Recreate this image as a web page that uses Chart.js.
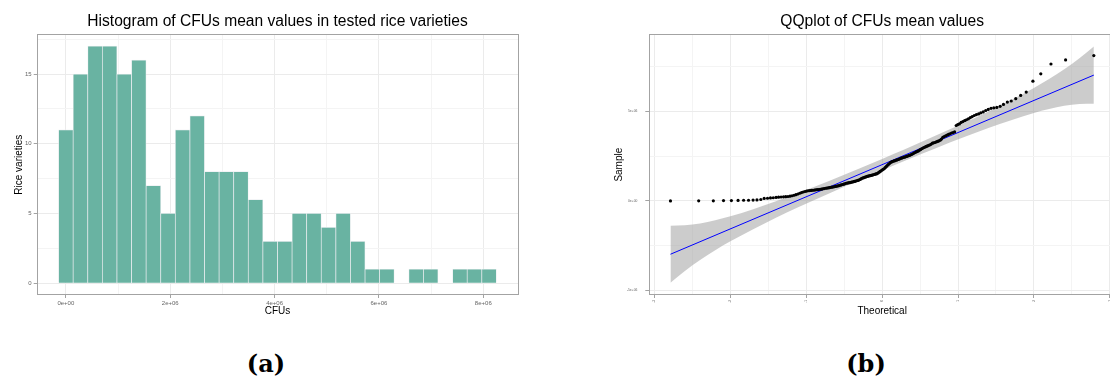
<!DOCTYPE html>
<html>
<head>
<meta charset="utf-8">
<script src="https://cdn.jsdelivr.net/npm/chart.js@4.4.1/dist/chart.umd.min.js"></script>
<style>
  html, body { margin: 0; padding: 0; width: 1110px; height: 380px; overflow: hidden; background: #fff; }
  canvas { position: absolute; top: 0; }
  #histCanvas { left: 0; }
  #qqCanvas { left: 560px; }
  .caption { position: absolute; top: 352px; width: 100px; text-align: center; font: bold 24px "DejaVu Serif", serif; line-height: 1; color: #000; }
</style>
</head>
<body>
<canvas id="histCanvas" width="555" height="320"></canvas>
<canvas id="qqCanvas" width="559" height="320"></canvas>
<div class="caption" style="left:216px">(a)</div>
<div class="caption" style="left:816px">(b)</div>
<script>
// histogram: bin centres (millions of CFUs) and number of varieties per bin
const binCenters = [0, 0.2797, 0.5594, 0.8391, 1.1188, 1.3985, 1.6782, 1.9579, 2.2376, 2.5173,
  2.797, 3.0767, 3.3564, 3.6361, 3.9158, 4.1955, 4.4752, 4.7549, 5.0346, 5.3143,
  5.594, 5.8737, 6.1534, 6.4331, 6.7128, 6.9925, 7.2722, 7.5519, 7.8316, 8.1113];
const binCounts = [11, 15, 17, 17, 15, 16, 7, 5, 11, 12, 8, 8, 8, 6, 3, 3, 5, 5, 4, 5, 3, 1, 1, 0, 1, 1, 0, 1, 1, 1];

// qq plot: theoretical normal quantiles and sorted sample means (millions)
const theoretical = [
  -2.79, -2.418, -2.225, -2.091, -1.987, -1.899, -1.826, -1.761, -1.701, -1.650,
  -1.599, -1.555, -1.511, -1.472, -1.435, -1.398, -1.365, -1.332, -1.300, -1.271,
  -1.242, -1.214, -1.187, -1.161, -1.136, -1.111, -1.087, -1.064, -1.041, -1.018,
  -0.996, -0.976, -0.955, -0.934, -0.914, -0.894, -0.875, -0.856, -0.837, -0.818,
  -0.800, -0.782, -0.765, -0.747, -0.730, -0.713, -0.695, -0.679, -0.663, -0.647,
  -0.631, -0.614, -0.598, -0.583, -0.568, -0.552, -0.537, -0.522, -0.507, -0.492,
  -0.477, -0.463, -0.448, -0.434, -0.419, -0.405, -0.391, -0.377, -0.363, -0.349,
  -0.335, -0.321, -0.307, -0.293, -0.279, -0.266, -0.252, -0.239, -0.225, -0.212,
  -0.198, -0.185, -0.172, -0.158, -0.145, -0.132, -0.119, -0.105, -0.092, -0.079,
  -0.066, -0.053, -0.039, -0.026, -0.013,
  0,
  0.013, 0.026, 0.039, 0.053, 0.066,
  0.079, 0.092, 0.105, 0.119, 0.132, 0.145, 0.158, 0.172, 0.185, 0.198,
  0.212, 0.225, 0.239, 0.252, 0.266, 0.279, 0.293, 0.307, 0.321, 0.335,
  0.349, 0.363, 0.377, 0.391, 0.405, 0.419, 0.434, 0.448, 0.463, 0.477,
  0.492, 0.507, 0.522, 0.537, 0.552, 0.568, 0.583, 0.598, 0.614, 0.631,
  0.647, 0.663, 0.679, 0.695, 0.713, 0.730, 0.747, 0.765, 0.782, 0.800,
  0.818, 0.837, 0.856, 0.875, 0.894, 0.914, 0.934, 0.955, 0.976, 0.996,
  1.018, 1.041, 1.064, 1.087, 1.111, 1.136, 1.161, 1.187, 1.214, 1.242,
  1.271, 1.300, 1.332, 1.365, 1.398, 1.435, 1.472, 1.511, 1.555, 1.599,
  1.650, 1.701, 1.761, 1.826, 1.899, 1.987, 2.091, 2.225, 2.418, 2.79
];
const sampleMeans = [
  0.00, 0.01, 0.01, 0.02, 0.02, 0.03, 0.04, 0.04, 0.05, 0.06, 0.08,
  0.14, 0.15, 0.17, 0.18, 0.20, 0.21, 0.22, 0.23, 0.24, 0.25, 0.27, 0.29, 0.32, 0.35, 0.39,
  0.43, 0.47, 0.50, 0.53, 0.55, 0.57, 0.58, 0.59, 0.60, 0.61, 0.62, 0.63, 0.64, 0.65, 0.66, 0.68, 0.69,
  0.71, 0.72, 0.73, 0.74, 0.76, 0.77, 0.78, 0.80, 0.81, 0.83, 0.84, 0.86, 0.88, 0.90, 0.92, 0.94, 0.96,
  0.99, 1.00, 1.01, 1.02, 1.03, 1.05, 1.06, 1.08, 1.09, 1.11, 1.13, 1.15, 1.17, 1.20, 1.23,
  1.27, 1.29, 1.31, 1.33, 1.35, 1.37, 1.39, 1.40, 1.42, 1.43, 1.45, 1.46, 1.48, 1.50, 1.51, 1.53,
  1.57, 1.61, 1.65, 1.69, 1.73, 1.77, 1.80,
  1.86, 1.92, 1.98, 2.03, 2.08,
  2.13, 2.17, 2.20, 2.22, 2.24, 2.26, 2.28, 2.30, 2.32, 2.34, 2.37,
  2.39, 2.41, 2.43, 2.45, 2.47, 2.49, 2.51, 2.53, 2.55, 2.58, 2.61, 2.64,
  2.68, 2.71, 2.74, 2.77, 2.80, 2.84, 2.88, 2.92,
  2.96, 2.99, 3.02, 3.05, 3.08, 3.11, 3.14, 3.18,
  3.23, 3.25, 3.27, 3.30, 3.33, 3.36, 3.40, 3.46,
  3.56, 3.60, 3.64, 3.68, 3.72, 3.76,
  3.80, 3.83, 3.86,
  4.22, 4.27, 4.31,
  4.39, 4.44, 4.49, 4.54, 4.59,
  4.66, 4.72, 4.78, 4.83, 4.87,
  4.93, 4.98, 5.06, 5.12,
  5.18, 5.21, 5.23, 5.29, 5.40,
  5.53, 5.59, 5.72,
  5.90, 6.09, 6.70, 7.11, 7.66, 7.89, 8.13
];

// reference line and its confidence band
const lineX = [-2.79, 2.79];
const lineY = [-2.98, 7.04];
const bandX = [-2.79, -2.6, -2.4, -2.2, -2.0, -1.7, -1.4, -1.1, -0.7, -0.3, 0, 0.3, 0.7, 1.1, 1.4, 1.7, 2.0, 2.2, 2.4, 2.6, 2.79];
const bandHigh = [-1.38, -1.36, -1.26, -1.08, -0.86, -0.46, -0.02, 0.46, 1.12, 1.81, 2.35, 2.89, 3.64, 4.40, 5.00, 5.64, 6.32, 6.82, 7.36, 7.98, 8.64];
const bandLow = [-4.58, -3.92, -3.30, -2.76, -2.26, -1.58, -0.94, -0.34, 0.42, 1.17, 1.71, 2.25, 2.94, 3.60, 4.08, 4.52, 4.92, 5.14, 5.32, 5.42, 5.44];

// axis ticks (major ones get labels, minor ones only a faint grid line)
const histXMajor = [0, 2, 4, 6, 8];
const histXMinor = [1, 3, 5, 7];
const histYMajor = [0, 5, 10, 15];
const histYMinor = [2.5, 7.5, 12.5, 17.5];
const qqXMajor = [-3, -2, -1, 0, 1, 2, 3];
const qqXMinor = [-2.5, -1.5, -0.5, 0.5, 1.5, 2.5];
const qqYMajor = [-5, 0, 5];
const qqYMinor = [-2.5, 2.5, 7.5];

Chart.defaults.font.family = '"Liberation Sans", Arial, sans-serif';

function sci(v) {
  if (v === 0) return '0e+00';
  return (v < 0 ? '-' : '') + Math.abs(v) + 'e+06';
}

function toXY(xs, ys) {
  return xs.map((x, i) => ({x: x, y: ys[i]}));
}

// light ggplot-like grid, ticks only at the major breaks
function gridFor(minor) {
  const isMinor = ctx => ctx.tick && minor.includes(ctx.tick.value);
  return {
    color: ctx => isMinor(ctx) ? '#f4f4f4' : '#ebebeb',
    tickColor: ctx => isMinor(ctx) ? 'rgba(0,0,0,0)' : '#a3a3a3',
    tickLength: 3,
    offset: false
  };
}

function axis(min, max, major, minor, fmt, tickFont, fitSize, vertical) {
  return {
    type: 'linear',
    min: min,
    max: max,
    offset: false,
    grid: gridFor(minor),
    border: {display: false},
    afterBuildTicks: scale => {
      scale.ticks = major.concat(minor).sort((a, b) => a - b).map(v => ({value: v}));
    },
    afterFit: scale => {
      if (vertical) scale.width = fitSize; else scale.height = fitSize;
    },
    ticks: {
      autoSkip: false,
      font: {size: tickFont},
      color: '#666',
      padding: 2,
      callback: v => minor.includes(v) ? '' : fmt(v)
    }
  };
}

// frame round the plotting panel
const panelFrame = {
  id: 'panelFrame',
  afterDraw(chart) {
    const a = chart.chartArea;
    const ctx = chart.ctx;
    ctx.save();
    ctx.strokeStyle = '#a3a3a3';
    ctx.lineWidth = 1;
    ctx.strokeRect(Math.round(a.left) + 0.5, Math.round(a.top) + 0.5, Math.round(a.width) - 1, Math.round(a.height) - 1);
    ctx.restore();
  }
};

function titleOpts(text) {
  return {
    display: true,
    text: text,
    fullSize: false,
    color: '#000',
    font: {size: 15.6, weight: 'normal'},
    padding: {top: 12, bottom: 3.6}
  };
}

// (a) histogram
const hx = axis(-0.559, 8.671, histXMajor, histXMinor, sci, 6, 24, false);
hx.ticks.minRotation = 0;
hx.ticks.maxRotation = 0;
hx.title = {display: true, text: 'CFUs', color: '#000', font: {size: 10}, padding: {top: 0, bottom: 2}};
const hy = axis(-0.85, 17.85, histYMajor, histYMinor, v => String(v), 6, 36.7, true);
hy.title = {display: true, text: 'Rice varieties', color: '#000', font: {size: 10}, padding: {top: 13, bottom: 0}};

new Chart(document.getElementById('histCanvas'), {
  type: 'bar',
  data: {
    datasets: [{
      data: toXY(binCenters, binCounts),
      backgroundColor: '#69b3a2',
      borderColor: '#e9ecef',
      borderWidth: 0.7,
      barPercentage: 1,
      categoryPercentage: 1
    }]
  },
  options: {
    responsive: false,
    animation: false,
    devicePixelRatio: 1,
    layout: {padding: {top: 0, right: 36.7, bottom: 1, left: 0}},
    plugins: {
      legend: {display: false},
      tooltip: {enabled: false},
      title: titleOpts('Histogram of CFUs mean values in tested rice varieties')
    },
    scales: {x: hx, y: hy}
  },
  plugins: [panelFrame]
});

// (b) normal QQ plot
const qx = axis(-3.069, 3.069, qqXMajor, qqXMinor, v => String(v), 3.3, 24, false);
qx.ticks.minRotation = 90;
qx.ticks.maxRotation = 90;
qx.title = {display: true, text: 'Theoretical', color: '#000', font: {size: 10}, padding: {top: 0, bottom: 2}};
const qy = axis(-5.26, 9.32, qqYMajor, qqYMinor, sci, 3.3, 89.3, true);
qy.grid.tickLength = 4;
qy.ticks.padding = 8;
qy.title = {display: true, text: 'Sample', color: '#000', font: {size: 10}, padding: {top: 53, bottom: 0}};

new Chart(document.getElementById('qqCanvas'), {
  type: 'line',
  data: {
    datasets: [
      {
        data: toXY(theoretical, sampleMeans),
        showLine: false,
        pointRadius: 1.6,
        pointBackgroundColor: '#000',
        pointBorderWidth: 0
      },
      {
        data: toXY(lineX, lineY),
        borderColor: '#0000ff',
        borderWidth: 1,
        pointRadius: 0
      },
      {
        data: toXY(bandX, bandHigh),
        borderColor: 'rgba(0,0,0,0)',
        borderWidth: 0,
        pointRadius: 0,
        backgroundColor: 'rgba(153,153,153,0.5)',
        fill: '+1',
        cubicInterpolationMode: 'monotone'
      },
      {
        data: toXY(bandX, bandLow),
        borderColor: 'rgba(0,0,0,0)',
        borderWidth: 0,
        pointRadius: 0,
        fill: false,
        cubicInterpolationMode: 'monotone'
      }
    ]
  },
  options: {
    responsive: false,
    animation: false,
    devicePixelRatio: 1,
    layout: {padding: {top: 0, right: 0, bottom: 1, left: 0}},
    plugins: {
      legend: {display: false},
      tooltip: {enabled: false},
      title: titleOpts('QQplot of CFUs mean values')
    },
    scales: {x: qx, y: qy}
  },
  plugins: [panelFrame]
});
</script>
</body>
</html>
